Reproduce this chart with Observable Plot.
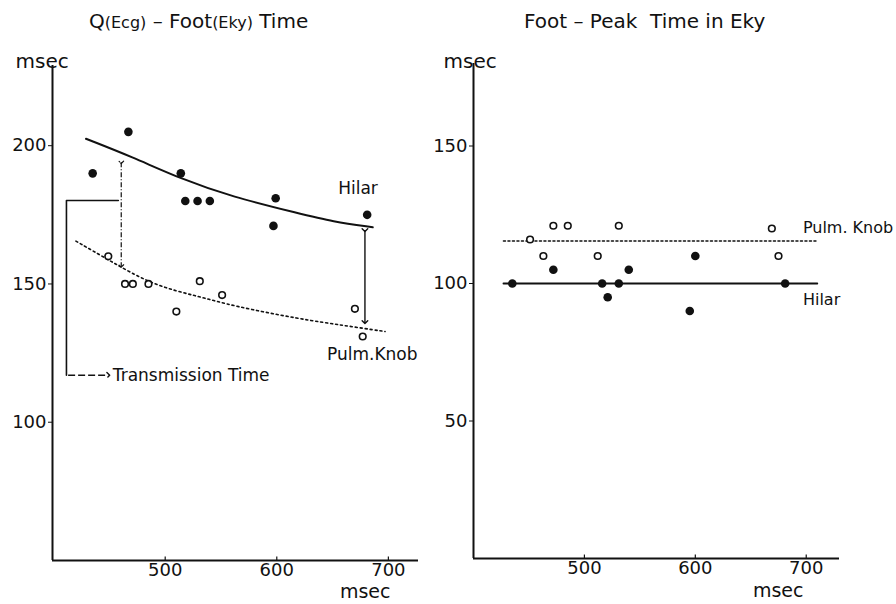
<!DOCTYPE html>
<html><head><meta charset="utf-8">
<script src="https://cdn.jsdelivr.net/npm/d3@7"></script>
<script src="https://cdn.jsdelivr.net/npm/@observablehq/plot@0.6"></script>
<style>
body{margin:0;background:#fff;}
#wrap{position:relative;width:896px;height:604px;font-family:"DejaVu Sans",sans-serif;color:#111;overflow:hidden;}
.panel{position:absolute;top:0;}
.panel svg{overflow:visible;}
.title{position:absolute;top:8px;font-size:20px;white-space:nowrap;line-height:26px;}
.title small{font-size:16px;}
</style></head><body>
<div id="wrap">
 <div id="left" class="panel" style="left:0"></div>
 <div id="right" class="panel" style="left:430px"></div>
 <div class="title" style="left:89px">Q<small>(Ecg)</small> – Foot<small>(Eky)</small> Time</div>
 <div class="title" style="left:524px">Foot – Peak&nbsp;&nbsp;Time in Eky</div>
</div>
<script>
// ---- Left panel: Q(Ecg) - Foot(Eky) Time ----
const leftHilarX = [435, 467, 514, 518, 529, 540, 599, 597, 681];
const leftHilarY = [190, 205, 190, 180, 180, 180, 181, 171, 175];
const leftPulmX  = [449, 464, 471, 485, 531, 551, 510, 670, 677];
const leftPulmY  = [160, 150, 150, 150, 151, 146, 140, 141, 131];
const leftHilarFitX = [429, 470, 514, 560, 620, 650, 686];
const leftHilarFitY = [202.5, 196, 188, 181.5, 175.5, 172.5, 170.5];
const leftPulmFitX  = [420, 450, 489, 530, 561, 621, 660, 697];
const leftPulmFitY  = [165.5, 158.5, 149.5, 145.5, 142, 137.3, 135, 132.8];
// annotation geometry (data units)
const bracketX = [458, 411.5, 411.5];
const bracketY = [180.2, 180.2, 117];
const transArrow = {x1: 413, x2: 449, y: 117};
const transLabel = {x: 453, y: 117, text: "Transmission Time"};
const arrowA = {x: 460.6, y1: 194, y2: 156.5};
const arrowB = {x: 679, y1: 169.5, y2: 136.2};
const leftLabels = [{x: 655, y: 184.5, text: "Hilar"}, {x: 645, y: 124.5, text: "Pulm.Knob"}];

// ---- Right panel: Foot - Peak Time in Eky ----
const rightPulmX  = [451, 472, 485, 463, 512, 531, 669, 675];
const rightPulmY  = [116, 121, 121, 110, 110, 121, 120, 110];
const rightHilarX = [435, 472, 516, 521, 531, 540, 600, 595, 681];
const rightHilarY = [100, 105, 100, 95, 100, 105, 110, 90, 100];
const rightPulmLevel = 115.5;
const rightHilarLevel = 100;
const rightLineX = [427, 710];
const rightLabels = [{x: 697, y: 120.3, text: "Pulm. Knob"}, {x: 697, y: 94, text: "Hilar"}];

const xTicks = [500, 600, 700];
const leftYTicks = [100, 150, 200];
const rightYTicks = [50, 100, 150];

const ink = "#111";
const font = "DejaVu Sans, sans-serif";
const zip = (xs, ys) => xs.map((x, i) => ({x, y: ys[i]}));

function commonMarks(xDom, yDom, yTicks, msecDx, msecDy) {
  return [
    Plot.ruleX([xDom[0]], {stroke: ink, strokeWidth: 2}),
    Plot.ruleY([yDom[0]], {stroke: ink, strokeWidth: 2}),
    Plot.axisY(yTicks, {label: null, tickSize: 4, tickPadding: 2, fontSize: 18, stroke: ink, fill: ink}),
    Plot.axisX(xTicks, {label: null, tickSize: 0, tickPadding: 3, fontSize: 18, fill: ink}),
    Plot.ruleX(xTicks, {y1: yDom[0], y2: yDom[0] + (yDom[1] - yDom[0]) * 0.007, stroke: ink, strokeWidth: 1.2}),
    Plot.text(["msec"], {frameAnchor: "bottom-right", dx: msecDx, dy: msecDy, lineAnchor: "middle", fontSize: 19, fill: ink})
  ];
}

// Left
const lx = [399, 727], ly = [50, 229];
const left = Plot.plot({
  width: 430, height: 604,
  marginTop: 65, marginBottom: 44, marginLeft: 52, marginRight: 12,
  style: {fontFamily: font, color: ink, background: "transparent", overflow: "visible"},
  x: {domain: lx, axis: null},
  y: {domain: ly, axis: null},
  marks: [
    ...commonMarks(lx, ly, leftYTicks, -28, 31),
    Plot.text(["msec"], {frameAnchor: "top-left", dx: -37, dy: -12, textAnchor: "start", fontSize: 20, fill: ink}),
    Plot.line(zip(leftHilarFitX, leftHilarFitY), {x: "x", y: "y", curve: "basis", stroke: ink, strokeWidth: 2}),
    Plot.line(zip(leftPulmFitX, leftPulmFitY), {x: "x", y: "y", curve: "basis", stroke: ink, strokeWidth: 1.6, strokeDasharray: "2,3"}),
    Plot.line(zip(bracketX, bracketY), {x: "x", y: "y", stroke: ink, strokeWidth: 1.6}),
    Plot.link([transArrow], {x1: "x1", x2: "x2", y1: "y", y2: "y", stroke: ink, strokeWidth: 1.4, strokeDasharray: "7,3", markerEnd: "arrow"}),
    Plot.text([transLabel], {x: "x", y: "y", text: "text", textAnchor: "start", fontSize: 17, fill: ink}),
    Plot.link([arrowA], {x1: "x", x2: "x", y1: "y1", y2: "y2", stroke: ink, strokeWidth: 1.2, strokeDasharray: "5,2,1,2", markerStart: "arrow", markerEnd: "arrow"}),
    Plot.link([arrowB], {x1: "x", x2: "x", y1: "y1", y2: "y2", stroke: ink, strokeWidth: 1.4, markerStart: "arrow", markerEnd: "arrow"}),
    Plot.dot(zip(leftHilarX, leftHilarY), {x: "x", y: "y", r: 4.3, fill: ink, stroke: "none"}),
    Plot.dot(zip(leftPulmX, leftPulmY), {x: "x", y: "y", r: 3.3, fill: "white", stroke: ink, strokeWidth: 1.6}),
    Plot.text(leftLabels, {x: "x", y: "y", text: "text", textAnchor: "start", fontSize: 17, fill: ink})
  ]
});
document.getElementById("left").append(left);

// Right
const rx = [400, 730], ry = [0, 180];
const right = Plot.plot({
  width: 466, height: 604,
  marginTop: 63, marginBottom: 46, marginLeft: 43, marginRight: 57,
  style: {fontFamily: font, color: ink, background: "transparent", overflow: "visible"},
  x: {domain: rx, axis: null},
  y: {domain: ry, axis: null},
  marks: [
    ...commonMarks(rx, ry, rightYTicks, -36, 32),
    Plot.text(["msec"], {frameAnchor: "top-left", dx: -30, dy: -10, textAnchor: "start", fontSize: 20, fill: ink}),
    Plot.line(rightLineX.map(x => ({x, y: rightHilarLevel})), {x: "x", y: "y", stroke: ink, strokeWidth: 1.8}),
    Plot.line(rightLineX.map(x => ({x, y: rightPulmLevel})), {x: "x", y: "y", stroke: ink, strokeWidth: 1.5, strokeDasharray: "2,2.5"}),
    Plot.dot(zip(rightHilarX, rightHilarY), {x: "x", y: "y", r: 4.3, fill: ink, stroke: "none"}),
    Plot.dot(zip(rightPulmX, rightPulmY), {x: "x", y: "y", r: 3.3, fill: "white", stroke: ink, strokeWidth: 1.6}),
    Plot.text(rightLabels, {x: "x", y: "y", text: "text", textAnchor: "start", fontSize: 16, fill: ink})
  ]
});
document.getElementById("right").append(right);
</script>
</body></html>
